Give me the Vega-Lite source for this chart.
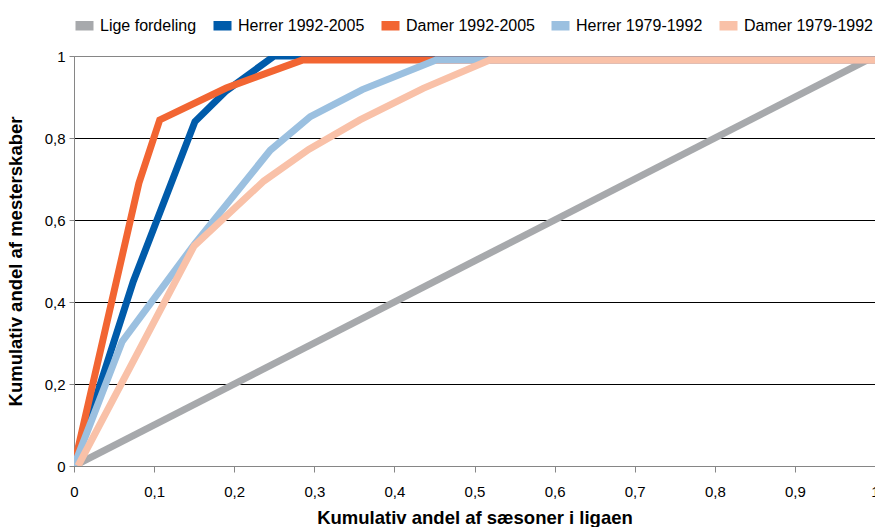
{
  "$schema": "https://vega.github.io/schema/vega-lite/v6.json",
  "autosize": {"type": "none"},
  "padding": {"left": 74, "top": 56, "right": 0, "bottom": 61},
  "width": 801,
  "height": 410,
  "background": "white",
  "config": {
    "font": "Liberation Sans",
    "view": {"stroke": "#868686", "strokeWidth": 1}
  },
  "data": {
    "values": [
      {"serie": "Lige fordeling", "x": 0, "y": 0},
      {"serie": "Lige fordeling", "x": 1, "y": 1},
      {"serie": "Herrer 1992-2005", "x": 0, "y": 0},
      {"serie": "Herrer 1992-2005", "x": 0.074, "y": 0.45},
      {"serie": "Herrer 1992-2005", "x": 0.151, "y": 0.84},
      {"serie": "Herrer 1992-2005", "x": 0.19, "y": 0.915},
      {"serie": "Herrer 1992-2005", "x": 0.25, "y": 1.0},
      {"serie": "Herrer 1992-2005", "x": 1, "y": 1.0},
      {"serie": "Damer 1992-2005", "x": 0, "y": 0},
      {"serie": "Damer 1992-2005", "x": 0.081, "y": 0.69},
      {"serie": "Damer 1992-2005", "x": 0.107, "y": 0.844},
      {"serie": "Damer 1992-2005", "x": 0.19, "y": 0.922},
      {"serie": "Damer 1992-2005", "x": 0.285, "y": 0.99},
      {"serie": "Damer 1992-2005", "x": 1, "y": 0.99},
      {"serie": "Herrer 1979-1992", "x": 0, "y": 0},
      {"serie": "Herrer 1979-1992", "x": 0.06, "y": 0.303},
      {"serie": "Herrer 1979-1992", "x": 0.15, "y": 0.54},
      {"serie": "Herrer 1979-1992", "x": 0.245, "y": 0.77},
      {"serie": "Herrer 1979-1992", "x": 0.295, "y": 0.852},
      {"serie": "Herrer 1979-1992", "x": 0.36, "y": 0.918},
      {"serie": "Herrer 1979-1992", "x": 0.452, "y": 0.99},
      {"serie": "Herrer 1979-1992", "x": 1, "y": 0.99},
      {"serie": "Damer 1979-1992", "x": 0.005, "y": 0},
      {"serie": "Damer 1979-1992", "x": 0.15, "y": 0.537},
      {"serie": "Damer 1979-1992", "x": 0.237, "y": 0.695},
      {"serie": "Damer 1979-1992", "x": 0.293, "y": 0.772},
      {"serie": "Damer 1979-1992", "x": 0.357, "y": 0.844},
      {"serie": "Damer 1979-1992", "x": 0.436, "y": 0.921},
      {"serie": "Damer 1979-1992", "x": 0.519, "y": 0.99},
      {"serie": "Damer 1979-1992", "x": 1, "y": 0.99}
    ]
  },
  "mark": {"type": "line", "strokeWidth": 7, "clip": true},
  "encoding": {
    "x": {
      "field": "x",
      "type": "quantitative",
      "scale": {"domain": [0, 1], "nice": false},
      "axis": {
        "title": "Kumulativ andel af sæsoner i ligaen",
        "titleFont": "Liberation Sans",
        "titleFontSize": 18.5,
        "titleFontWeight": "bold",
        "titleColor": "#000000",
        "titlePadding": 9,
        "values": [0, 0.1, 0.2, 0.3, 0.4, 0.5, 0.6, 0.7, 0.8, 0.9, 1],
        "labelExpr": "replace(format(datum.value, '~g'), '.', ',')",
        "labelFontSize": 15,
        "labelColor": "#000000",
        "labelPadding": 12,
        "labelFlush": false,
        "labelOverlap": false,
        "tickSize": 6,
        "tickColor": "#868686",
        "domainColor": "#868686",
        "grid": false
      }
    },
    "y": {
      "field": "y",
      "type": "quantitative",
      "scale": {"domain": [0, 1], "nice": false},
      "axis": {
        "title": "Kumulativ andel af mesterskaber",
        "titleFont": "Liberation Sans",
        "titleFontSize": 18.5,
        "titleFontWeight": "bold",
        "titleColor": "#000000",
        "titlePadding": 19,
        "values": [0, 0.2, 0.4, 0.6, 0.8, 1],
        "labelExpr": "replace(format(datum.value, '~g'), '.', ',')",
        "labelFontSize": 15,
        "labelColor": "#000000",
        "labelPadding": 4,
        "labelFlush": false,
        "tickSize": 5,
        "tickColor": "#868686",
        "domainColor": "#868686",
        "grid": true,
        "gridColor": {"condition": {"test": "datum.value === 1", "value": "#868686"}, "value": "#000000"},
        "gridOpacity": 1,
        "gridWidth": 1
      }
    },
    "color": {
      "field": "serie",
      "type": "nominal",
      "sort": null,
      "scale": {
        "domain": ["Lige fordeling", "Herrer 1992-2005", "Damer 1992-2005", "Herrer 1979-1992", "Damer 1979-1992"],
        "range": ["#A7A9AC", "#005BAA", "#F26532", "#9BC0E0", "#F9C1A8"]
      },
      "legend": {
        "title": null,
        "orient": "top",
        "direction": "horizontal",
        "offset": 22,
        "symbolType": "M-1,-0.4H1M-1,-0.2H1M-1,0H1M-1,0.2H1M-1,0.4H1",
        "symbolSize": 324,
        "symbolStrokeWidth": 2.2,
        "symbolOpacity": 1,
        "labelFontSize": 16,
        "labelColor": "#000000",
        "labelOffset": 5,
        "columnPadding": 12,
        "labelLimit": 300
      }
    }
  }
}
